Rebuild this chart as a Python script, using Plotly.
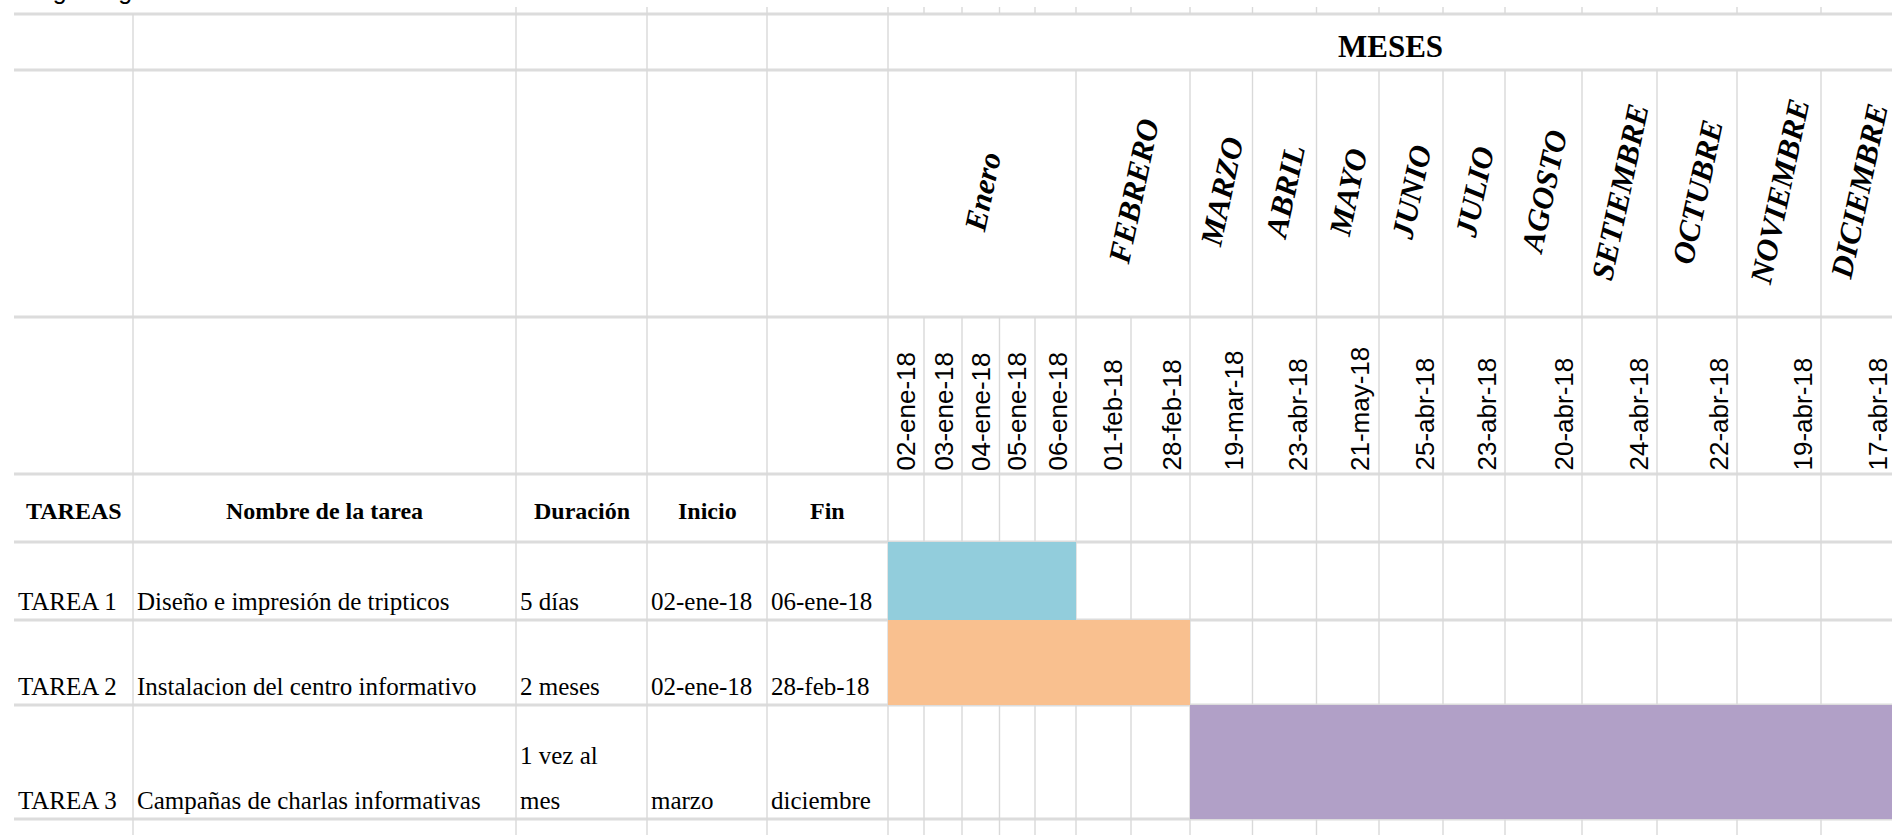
import plotly.graph_objects as go

# datos del diagrama de Gantt
encabezados = ["TAREAS", "Nombre de la tarea", "Duración", "Inicio", "Fin"]
tareas = ["TAREA 1", "TAREA 2", "TAREA 3"]
nombres = ["Diseño e impresión de tripticos",
           "Instalacion del centro informativo",
           "Campañas de charlas informativas"]
duraciones = ["5 días", "2 meses", "1 vez al<br>mes"]
inicios = ["02-ene-18", "02-ene-18", "marzo"]
fines = ["06-ene-18", "28-feb-18", "diciembre"]

meses = ["Enero", "FEBRERO", "MARZO", "ABRIL", "MAYO", "JUNIO", "JULIO",
         "AGOSTO", "SETIEMBRE", "OCTUBRE", "NOVIEMBRE", "DICIEMBRE"]
columnas_por_mes = [5, 2, 1, 1, 1, 1, 1, 1, 1, 1, 1, 1]
fechas = ["02-ene-18", "03-ene-18", "04-ene-18", "05-ene-18", "06-ene-18",
          "01-feb-18", "28-feb-18", "19-mar-18", "23-abr-18", "21-may-18",
          "25-abr-18", "23-abr-18", "20-abr-18", "24-abr-18", "22-abr-18",
          "19-abr-18", "17-abr-18"]

# columna de fecha donde empieza y termina cada barra
col_inicio = [0, 0, 7]
col_fin = [4, 6, 16]
colores = ["#92CDDC", "#F9C08F", "#B1A0C7"]

# geometria de la hoja (pixeles)
W, H = 1892, 835
tabla_x = [14, 133, 516, 647, 767, 888]
gantt_x = [888, 924, 962, 999.5, 1035, 1076, 1131, 1190, 1252.5, 1316.5,
           1379, 1443, 1505, 1582, 1657, 1737, 1821, 1896]
filas_y = [14, 70, 317, 474, 542, 620, 705, 819]

SERIF = "Liberation Serif, Times New Roman, serif"
SANS = "Liberation Sans, Arial, sans-serif"
LINEA_H = "#dcdcdc"
LINEA_V = "#d9d9d9"

fig = go.Figure()

# barras de las tareas
for i in range(len(tareas)):
    x0 = gantt_x[col_inicio[i]]
    x1 = gantt_x[col_fin[i] + 1]
    y0, y1 = filas_y[4 + i], filas_y[5 + i]
    fig.add_trace(go.Bar(
        orientation='h',
        y=[(y0 + y1) / 2],
        x=[x1 - x0],
        base=[x0],
        width=[y1 - y0],
        marker=dict(color=colores[i], line=dict(width=0)),
        showlegend=False,
        hoverinfo='skip'
    ))

shapes = []


def linea(x0, y0, x1, y1, color, ancho):
    shapes.append(dict(type='line', xref='x', yref='y', x0=x0, y0=y0,
                       x1=x1, y1=y1, layer='below',
                       line=dict(color=color, width=ancho)))


# lineas horizontales
for y in filas_y:
    linea(tabla_x[0], y, W, y, LINEA_H, 3)

# columnas de la tabla izquierda
for k, x in enumerate(tabla_x[1:]):
    linea(x, 7 if k > 0 else filas_y[0], x, H, LINEA_V, 1.4)

# columnas del gantt
for x in gantt_x[1:]:
    linea(x, 7, x, filas_y[0], LINEA_V, 1.4)
    linea(x, filas_y[2], x, H, LINEA_V, 1.4)

# limites de los meses
bordes_mes = [gantt_x[0]]
acum = 0
for n in columnas_por_mes:
    acum += n
    bordes_mes.append(gantt_x[acum])
for x in bordes_mes[1:]:
    linea(x, filas_y[1], x, filas_y[2], LINEA_V, 1.4)

annotations = []


def texto(t, x, y, size, family=SERIF, xanchor='left', yanchor='bottom',
          angle=0):
    annotations.append(dict(text=t, x=x, y=y, xref='x', yref='y',
                            showarrow=False, xanchor=xanchor,
                            yanchor=yanchor, textangle=angle,
                            font=dict(family=family, size=size,
                                      color='black')))


# titulo cortado arriba
texto("Fig. Diagrama de Gantt", 30, 6, 25, family=SANS)

# MESES
texto("<b>MESES</b>", (gantt_x[0] + W) / 2, 46, 31, xanchor='center',
      yanchor='middle')

# nombres de los meses
for j, m in enumerate(meses):
    cx = (bordes_mes[j] + bordes_mes[j + 1]) / 2
    texto("<b><i>" + m + "</i></b>", cx, 192, 31, xanchor='center',
          yanchor='middle', angle=-78)

# fechas
for j, f in enumerate(fechas):
    texto(f, gantt_x[j + 1] - 19, 473, 26, family=SANS, xanchor='center',
          yanchor='bottom', angle=-90)

# encabezados de la tabla
for k, e in enumerate(encabezados):
    cx = (tabla_x[k] + tabla_x[k + 1]) / 2
    texto("<b>" + e + "</b>", cx, 511, 24, xanchor='center', yanchor='middle')

# filas de tareas
columnas = [tareas, nombres, duraciones, inicios, fines]
for i in range(len(tareas)):
    fondo = filas_y[5 + i] - 3
    for k, col in enumerate(columnas):
        lineas = col[i].split("<br>")
        for n, t in enumerate(reversed(lineas)):
            texto(t, tabla_x[k] + 2, fondo - n * 45, 25)

fig.update_layout(
    width=W,
    height=H,
    margin=dict(l=0, r=0, t=0, b=0),
    plot_bgcolor='white',
    paper_bgcolor='white',
    barmode='overlay',
    xaxis=dict(range=[0, W], visible=False, fixedrange=True),
    yaxis=dict(range=[H, 0], visible=False, fixedrange=True),
    shapes=shapes,
    annotations=annotations
)

fig.write_html("out.html", config={'displayModeBar': False},
               post_script="document.body.style.margin='0';")
